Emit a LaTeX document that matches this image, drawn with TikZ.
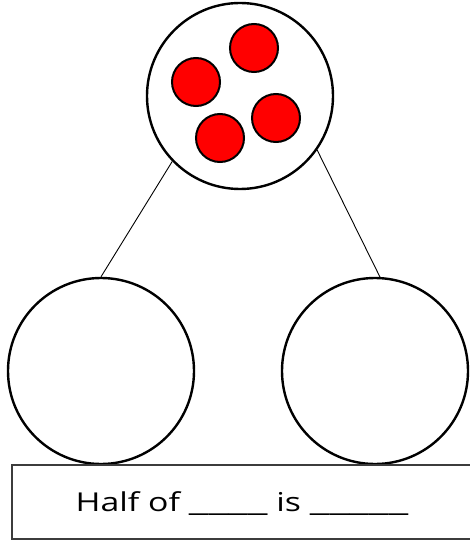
\documentclass[tikz,border=0pt]{standalone}
\usepackage{fontspec}
\newfontfamily\worksheetfont[FakeStretch=1.3]{Open Sans}
\usepackage{tikz}
\definecolor{dotred}{RGB}{255, 0, 0}
\definecolor{boxgray}{RGB}{60, 60, 60}
\newcommand{\blankline}[1]{\scalebox{1.3}[1]{#1}}

\begin{document}
\begin{tikzpicture}[x=1pt, y=-1pt,
    bigcircle/.style={circle, draw, line width=2.4pt, minimum size=186pt, inner sep=0pt},
    reddot/.style={circle, draw, line width=2pt, fill=dotred, minimum size=48pt, inner sep=0pt},
    link/.style={line width=0.9pt}]
					\useasboundingbox (0,0) rectangle (469,540);
					% Circulo de arriba con los puntos
					\node[bigcircle] (whole) at (240,96) {};
					\node[reddot] (dotA) at (196,82) {};
					\node[reddot] (dotB) at (254,48) {};
					\node[reddot] (dotC) at (276,118) {};
					\node[reddot] (dotD) at (220,138) {};
					% Las dos mitades
					\node[bigcircle] (halfL) at (101,371) {};
					\node[bigcircle] (halfR) at (375,371) {};
					\draw[link] (whole.224) -- (halfL.north);
					\draw[link] (whole.-35) -- (halfR.87);
					% Frase de abajo
					\node[draw=boxgray, line width=1.5pt, minimum width=460pt, minimum height=74pt,
					      text height=19pt, text depth=0pt, font=\worksheetfont\fontsize{26}{30}\selectfont]
					      (sentence) at (242,502) {Half of \blankline{\_\_\_\_} is \blankline{\_\_\_\_\_}};
				\end{tikzpicture}
\end{document}
